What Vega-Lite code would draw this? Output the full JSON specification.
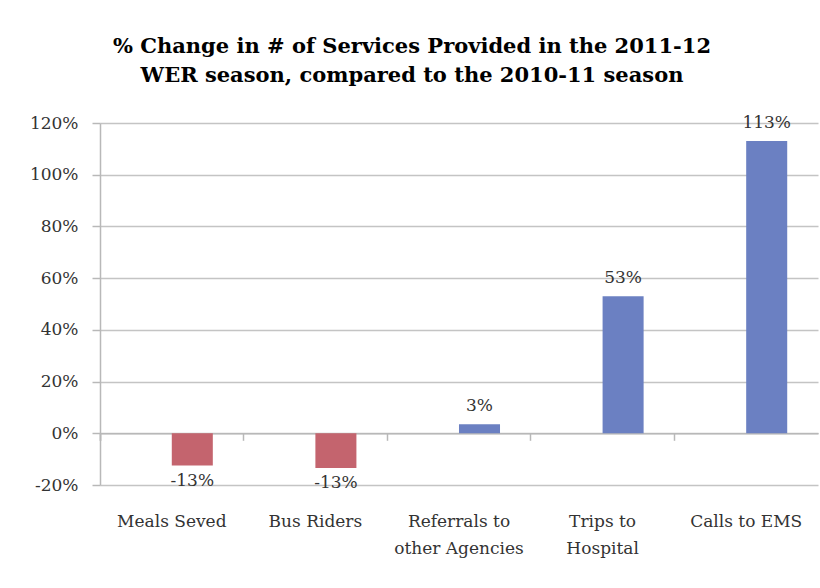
{
  "$schema": "https://vega.github.io/schema/vega-lite/v6.json",
  "width": 718,
  "height": 362,
  "autosize": "none",
  "padding": {"left": 100, "top": 123, "right": 2, "bottom": 103},
  "background": "white",
  "title": {
    "text": ["% Change in # of Services Provided in the 2011-12", "WER season, compared to the 2010-11 season"],
    "font": "DejaVu Serif",
    "fontSize": 21,
    "fontWeight": "bold",
    "color": "#000000",
    "anchor": "middle",
    "frame": "group",
    "dx": -47,
    "offset": 28,
    "lineHeight": 29
  },
  "data": {
    "values": [
      {"service": "Meals Seved", "pct": -0.125, "label": "-13%"},
      {"service": "Bus Riders", "pct": -0.134, "label": "-13%"},
      {"service": "Referrals to other Agencies", "pct": 0.035, "label": "3%"},
      {"service": "Trips to Hospital", "pct": 0.53, "label": "53%"},
      {"service": "Calls to EMS", "pct": 1.13, "label": "113%"}
    ]
  },
  "encoding": {
    "x": {
      "field": "service",
      "type": "nominal",
      "sort": null,
      "scale": {"paddingInner": 0, "paddingOuter": 0},
      "axis": {
        "title": null,
        "orient": "bottom",
        "offset": -51.7,
        "bandPosition": 0,
        "tickExtra": true,
        "labelAngle": 0,
        "labelFont": "DejaVu Serif",
        "labelFontSize": 17,
        "labelColor": "#333333",
        "labelPadding": 73,
        "labelLineHeight": 27,
        "labelBaseline": "top",
        "labelExpr": "datum.value == 'Referrals to other Agencies' ? ['Referrals to', 'other Agencies'] : datum.value == 'Trips to Hospital' ? ['Trips to', 'Hospital'] : datum.value",
        "domainColor": "#b8b8b8",
        "domainWidth": 1.5,
        "tickColor": "#b8b8b8",
        "tickWidth": 1.5,
        "tickSize": 7,
        "grid": false
      }
    },
    "y": {
      "field": "pct",
      "type": "quantitative",
      "scale": {"domain": [-0.2, 1.2], "nice": false, "zero": false},
      "axis": {
        "title": null,
        "values": [-0.2, 0, 0.2, 0.4, 0.6, 0.8, 1.0, 1.2],
        "labelExpr": "(datum.value < 0 ? '-' : '') + format(abs(datum.value), '.0%')",
        "labelFont": "DejaVu Serif",
        "labelFontSize": 17,
        "labelColor": "#333333",
        "labelPadding": 14,
        "tickSize": 8,
        "tickColor": "#b8b8b8",
        "tickWidth": 1.5,
        "domainColor": "#b8b8b8",
        "domainWidth": 1.5,
        "grid": true,
        "gridColor": "#c4c4c4",
        "gridWidth": 1.5
      }
    }
  },
  "layer": [
    {
      "mark": {"type": "bar", "width": {"band": 0.2857}, "xOffset": 20.5},
      "encoding": {
        "color": {
          "condition": {"test": "datum.pct < 0", "value": "#c4646e"},
          "value": "#6b80c2"
        }
      }
    },
    {
      "transform": [{"filter": "datum.pct >= 0"}],
      "mark": {"type": "text", "xOffset": 20.5, "baseline": "bottom", "dy": -9, "font": "DejaVu Serif", "fontSize": 17, "color": "#333333"},
      "encoding": {"text": {"field": "label"}}
    },
    {
      "transform": [{"filter": "datum.pct < 0"}],
      "mark": {"type": "text", "xOffset": 20.5, "baseline": "top", "dy": 7, "font": "DejaVu Serif", "fontSize": 17, "color": "#333333"},
      "encoding": {"text": {"field": "label"}}
    }
  ],
  "config": {
    "view": {"stroke": null}
  }
}
